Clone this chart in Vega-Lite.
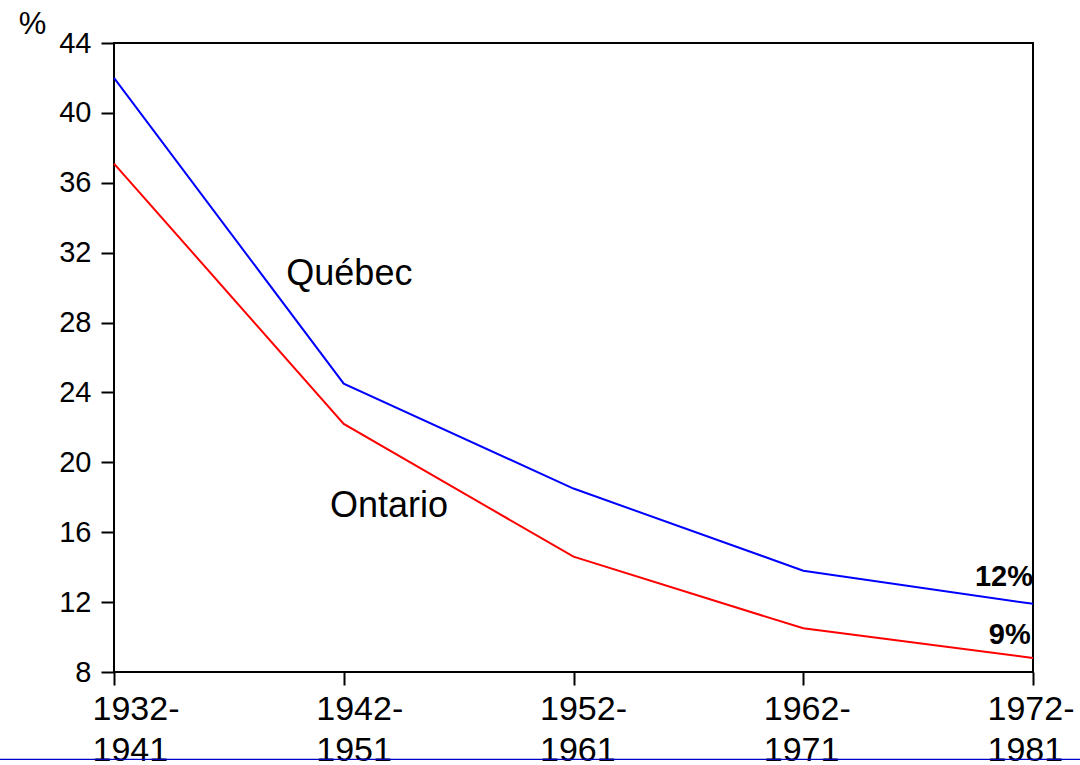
{
  "$schema": "https://vega.github.io/schema/vega-lite/v6.json",
  "width": 919,
  "height": 629,
  "autosize": "none",
  "padding": {"left": 114, "top": 43, "right": 47, "bottom": 93},
  "background": "white",
  "config": {
    "view": {"stroke": "black", "strokeWidth": 2},
    "font": "Liberation Sans"
  },
  "datasets": {
    "lines": [
      {"period": 1932, "region": "Québec", "pct": 42.0},
      {"period": 1942, "region": "Québec", "pct": 24.5},
      {"period": 1952, "region": "Québec", "pct": 18.5},
      {"period": 1962, "region": "Québec", "pct": 13.8},
      {"period": 1972, "region": "Québec", "pct": 11.9},
      {"period": 1932, "region": "Ontario", "pct": 37.1},
      {"period": 1942, "region": "Ontario", "pct": 22.2},
      {"period": 1952, "region": "Ontario", "pct": 14.6},
      {"period": 1962, "region": "Ontario", "pct": 10.5},
      {"period": 1972, "region": "Ontario", "pct": 8.8}
    ],
    "names": [
      {"x": 1939.5, "y": 30.8, "label": "Québec"},
      {"x": 1941.4, "y": 17.5, "label": "Ontario"}
    ],
    "ends": [
      {"x": 1972, "y": 13.45, "label": "12%"},
      {"x": 1971.9, "y": 10.1, "label": "9%"}
    ],
    "edge": [
      {"x": 1927.0, "x2": 1974.1, "y": 3.0}
    ]
  },
  "layer": [
    {
      "data": {"name": "lines"},
      "mark": {"type": "line", "strokeWidth": 2},
      "encoding": {
        "x": {
          "field": "period",
          "type": "quantitative",
          "scale": {"domain": [1932, 1972], "nice": false, "zero": false},
          "axis": {
            "values": [1932, 1942, 1952, 1962, 1972],
            "title": null,
            "grid": false,
            "domain": false,
            "tickColor": "black",
            "tickWidth": 2,
            "tickSize": 13,
            "labelFontSize": 34,
            "labelColor": "black",
            "labelAlign": "left",
            "labelBaseline": "top",
            "labelPadding": 7,
            "labelLineHeight": 41,
            "labelFlush": false,
            "labelOverlap": false,
            "labelExpr": "[datum.value + '-', '' + (datum.value + 9)]",
            "labelOffset": {
              "condition": [
                {"test": "datum.value <= 1932", "value": -22},
                {"test": "datum.value <= 1942", "value": -28},
                {"test": "datum.value <= 1952", "value": -34},
                {"test": "datum.value <= 1962", "value": -40}
              ],
              "value": -46
            }
          }
        },
        "y": {
          "field": "pct",
          "type": "quantitative",
          "scale": {"domain": [8, 44], "nice": false, "zero": false},
          "axis": {
            "values": [8, 12, 16, 20, 24, 28, 32, 36, 40, 44],
            "title": "%",
            "titleAngle": 0,
            "titleX": -82,
            "titleY": -19,
            "titleAlign": "center",
            "titleBaseline": "middle",
            "titleFontSize": 31,
            "titleFontWeight": "normal",
            "titleColor": "black",
            "grid": false,
            "domain": false,
            "tickColor": "black",
            "tickWidth": 2,
            "tickSize": 13,
            "labelFontSize": 29,
            "labelColor": "black",
            "labelPadding": 10
          }
        },
        "color": {
          "field": "region",
          "type": "nominal",
          "scale": {"domain": ["Québec", "Ontario"], "range": ["#0000FF", "#FF0000"]},
          "legend": null
        }
      }
    },
    {
      "data": {"name": "names"},
      "mark": {"type": "text", "align": "left", "baseline": "middle", "fontSize": 36, "color": "black"},
      "encoding": {
        "x": {"field": "x", "type": "quantitative"},
        "y": {"field": "y", "type": "quantitative"},
        "text": {"field": "label"}
      }
    },
    {
      "data": {"name": "ends"},
      "mark": {"type": "text", "align": "right", "baseline": "middle", "fontSize": 29, "fontWeight": "bold", "color": "black"},
      "encoding": {
        "x": {"field": "x", "type": "quantitative"},
        "y": {"field": "y", "type": "quantitative"},
        "text": {"field": "label"}
      }
    },
    {
      "data": {"name": "edge"},
      "mark": {"type": "rule", "color": "#0000C8", "strokeWidth": 1.2, "clip": false},
      "encoding": {
        "x": {"field": "x", "type": "quantitative"},
        "x2": {"field": "x2"},
        "y": {"field": "y", "type": "quantitative"}
      }
    }
  ]
}
